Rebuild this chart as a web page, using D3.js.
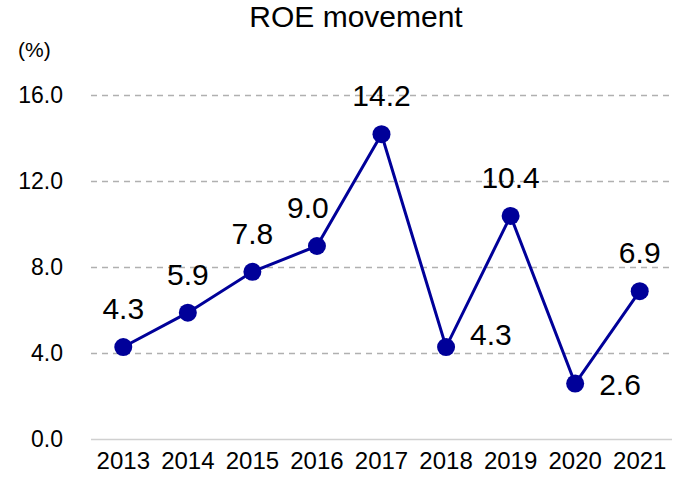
<!DOCTYPE html>
<html>
  <head>
    <meta charset="utf-8"/>
    <title>ROE movement</title>
    <style>
      body { margin: 0; background: #fff; }
      text { font-family: "Liberation Sans", Arial, sans-serif; fill: #000; }
      .grid line { stroke: #b0b0b0; stroke-width: 1.5px; stroke-dasharray: 6,5; }
    </style>
    <script src="https://d3js.org/d3.v7.min.js"></script>
  </head>
  <body>
    <svg id="chart" width="683" height="487"></svg>
    <script>
      var years = ["2013", "2014", "2015", "2016", "2017", "2018", "2019", "2020", "2021"];
      var roe = [4.3, 5.9, 7.8, 9.0, 14.2, 4.3, 10.4, 2.6, 6.9];
      // where each value label sits relative to its point
      var labelPos = ["top", "top", "top", "topleft", "top", "upright", "top", "right", "top"];
      var yTicks = [0, 4, 8, 12, 16];

      var svg = d3.select("#chart");

      var x = d3.scaleBand().domain(years).range([91, 672]);
      var y = d3.scaleLinear().domain([0, 16]).range([439.5, 95.5]);

      // title + unit
      svg.append("text")
        .attr("x", 356).attr("y", 27)
        .attr("text-anchor", "middle")
        .attr("font-size", 30)
        .text("ROE movement");

      svg.append("text")
        .attr("x", 18).attr("y", 57)
        .attr("font-size", 21)
        .text("(%)");

      // gridlines
      var grid = svg.append("g").attr("class", "grid");
      grid.selectAll("line")
        .data(yTicks.filter(function(d) { return d > 0; }))
        .enter().append("line")
        .attr("x1", 91).attr("x2", 672)
        .attr("y1", function(d) { return y(d); })
        .attr("y2", function(d) { return y(d); });

      // baseline
      svg.append("line")
        .attr("x1", 91).attr("x2", 672)
        .attr("y1", y(0)).attr("y2", y(0))
        .attr("stroke", "#d0d0d0").attr("stroke-width", 1.5);

      // y axis labels
      var yAxis = d3.axisLeft(y).tickValues(yTicks).tickFormat(d3.format(".1f")).tickSize(0).tickPadding(0);
      var ya = svg.append("g").attr("transform", "translate(63,0)").call(yAxis);
      ya.select(".domain").remove();
      ya.selectAll("text").attr("font-size", 23).attr("font-family", null).attr("fill", "#000");

      // x axis labels
      var xAxis = d3.axisBottom(x).tickSize(0).tickPadding(0);
      var xa = svg.append("g").attr("transform", "translate(0,452)").call(xAxis);
      xa.select(".domain").remove();
      xa.selectAll("text").attr("font-size", 24).attr("font-family", null).attr("fill", "#000");

      var cx = function(d, i) { return x(years[i]) + x.bandwidth() / 2; };

      var line = d3.line()
        .x(function(d, i) { return cx(d, i); })
        .y(function(d) { return y(d); });

      svg.append("path")
        .datum(roe)
        .attr("d", line)
        .attr("fill", "none")
        .attr("stroke", "#000099")
        .attr("stroke-width", 3);

      svg.selectAll(".dot")
        .data(roe)
        .enter().append("circle")
        .attr("class", "dot")
        .attr("cx", cx)
        .attr("cy", function(d) { return y(d); })
        .attr("r", 9)
        .attr("fill", "#000099");

      svg.selectAll(".val")
        .data(roe)
        .enter().append("text")
        .attr("class", "val")
        .attr("font-size", 30)
        .attr("text-anchor", function(d, i) { return labelPos[i].indexOf("top") == 0 ? "middle" : "start"; })
        .attr("x", function(d, i) {
          if (labelPos[i] == "top") return cx(d, i);
          if (labelPos[i] == "topleft") return cx(d, i) - 9;
          return cx(d, i) + 24;
        })
        .attr("y", function(d, i) {
          if (labelPos[i].indexOf("top") == 0) return y(d) - 28;
          if (labelPos[i] == "upright") return y(d) - 2;
          return y(d) + 11;
        })
        .text(function(d) { return d3.format(".1f")(d); });
    </script>
  </body>
</html>
